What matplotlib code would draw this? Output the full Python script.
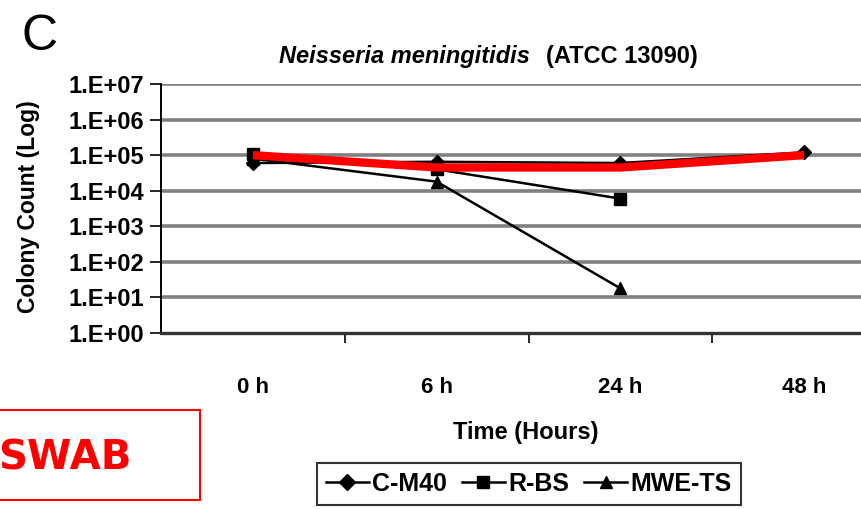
import matplotlib
matplotlib.use("Agg")
import matplotlib.pyplot as plt
from matplotlib.patches import Rectangle
import numpy as np

categories = ["0 h", "6 h", "24 h", "48 h"]
series_names = ["C-M40", "R-BS", "MWE-TS"]
c_m40 = [6e4, 6.5e4, 6e4, 1.2e5]
r_bs = [1.05e5, 4e4, 6e3]
mwe_ts = [8e4, 1.8e4, 18]
red_line = [1e5, 4.5e4, 4.5e4, 1e5]
ytick_vals = [1e0, 1e1, 1e2, 1e3, 1e4, 1e5, 1e6, 1e7]
ytick_labels = ["1.E+00", "1.E+01", "1.E+02", "1.E+03", "1.E+04", "1.E+05", "1.E+06", "1.E+07"]

W, H = 861, 509
plt.rcParams['font.family'] = ['Liberation Sans', 'DejaVu Sans']
fig = plt.figure(figsize=(W / 100, H / 100), dpi=100)

left, right, top, bottom = 161, 896, 84, 333
ax = fig.add_axes([left / W, 1 - bottom / H, (right - left) / W, (bottom - top) / H])

x = np.arange(len(categories))
ax.set_yscale('log')
ax.set_ylim(1e0, 1e7)
ax.set_xlim(-0.5, 3.5)

for v in ytick_vals[1:]:
    ax.axhline(v, color='#808080', lw=2.6, zorder=1)

l1, = ax.plot(x[:len(c_m40)], c_m40, color='black', lw=1.8, marker='D', ms=7, zorder=3, label=series_names[0])
l2, = ax.plot(x[:len(r_bs)], r_bs, color='black', lw=1.8, marker='s', ms=8, zorder=3, label=series_names[1])
l3, = ax.plot(x[:len(mwe_ts)], mwe_ts, color='black', lw=1.8, marker='^', ms=9, zorder=3, label=series_names[2])
ax.plot(x[:len(red_line)], red_line, color='#ff0000', lw=6, zorder=4, solid_capstyle='butt')

ax.set_yticks(ytick_vals)
ax.set_yticklabels(ytick_labels, fontsize=17, fontweight='bold')
ax.yaxis.set_minor_locator(matplotlib.ticker.NullLocator())
ax.tick_params(axis='y', length=8, width=1.2, direction='out', pad=4)

ax.set_xticks(x)
ax.set_xticklabels(categories, fontsize=16, fontweight='bold')
ax.tick_params(axis='x', which='major', length=0, pad=32)
ax.set_xticks([0.5, 1.5, 2.5], minor=True)
ax.tick_params(axis='x', which='minor', length=7, width=1.2, direction='out')

for s in ['top', 'right']:
    ax.spines[s].set_visible(False)
ax.spines['left'].set_linewidth(1.4)
ax.spines['bottom'].set_linewidth(2.4)
ax.spines['bottom'].set_color('#333333')

fig.text(28 / W, 1 - 207 / H, "Colony Count (Log)", fontsize=16.5, fontweight='bold',
         rotation=90, ha='center', va='center')

fig.text(526 / W, 1 - 432 / H, "Time (Hours)", fontsize=17, fontweight='bold', ha='center', va='center')

fig.text(530 / W, 1 - 56 / H, "Neisseria meningitidis", fontsize=17, fontweight='bold', style='italic',
         ha='right', va='center')
fig.text(546 / W, 1 - 56 / H, "(ATCC 13090)", fontsize=17, fontweight='bold', ha='left', va='center')

fig.text(22 / W, 1 - 37 / H, "C", fontsize=36, ha='left', va='center')

leg = fig.legend(handles=[l1, l2, l3], loc='center', bbox_to_anchor=(529 / W, 1 - 484 / H),
                 ncol=3, prop={'weight': 'bold', 'size': 18}, frameon=True, fancybox=False,
                 handlelength=1.7, handletextpad=0.15, columnspacing=0.6, borderpad=0.35,
                 borderaxespad=0)
leg.get_frame().set_edgecolor('black')
leg.get_frame().set_linewidth(1.5)
for h in leg.legend_handles:
    h.set_markersize(8)

fig.patches.append(Rectangle((-2 / W, 1 - 500 / H), 202 / W, 90 / H, transform=fig.transFigure,
                             fill=False, edgecolor='#ff0000', lw=1.5))
fig.text(132 / W, 1 - 458 / H, "SWAB", fontsize=29, fontweight='bold', color='#ff0000', ha='right', va='center',
         family=['DejaVu Sans'])

fig.savefig("out.png", dpi=100)
